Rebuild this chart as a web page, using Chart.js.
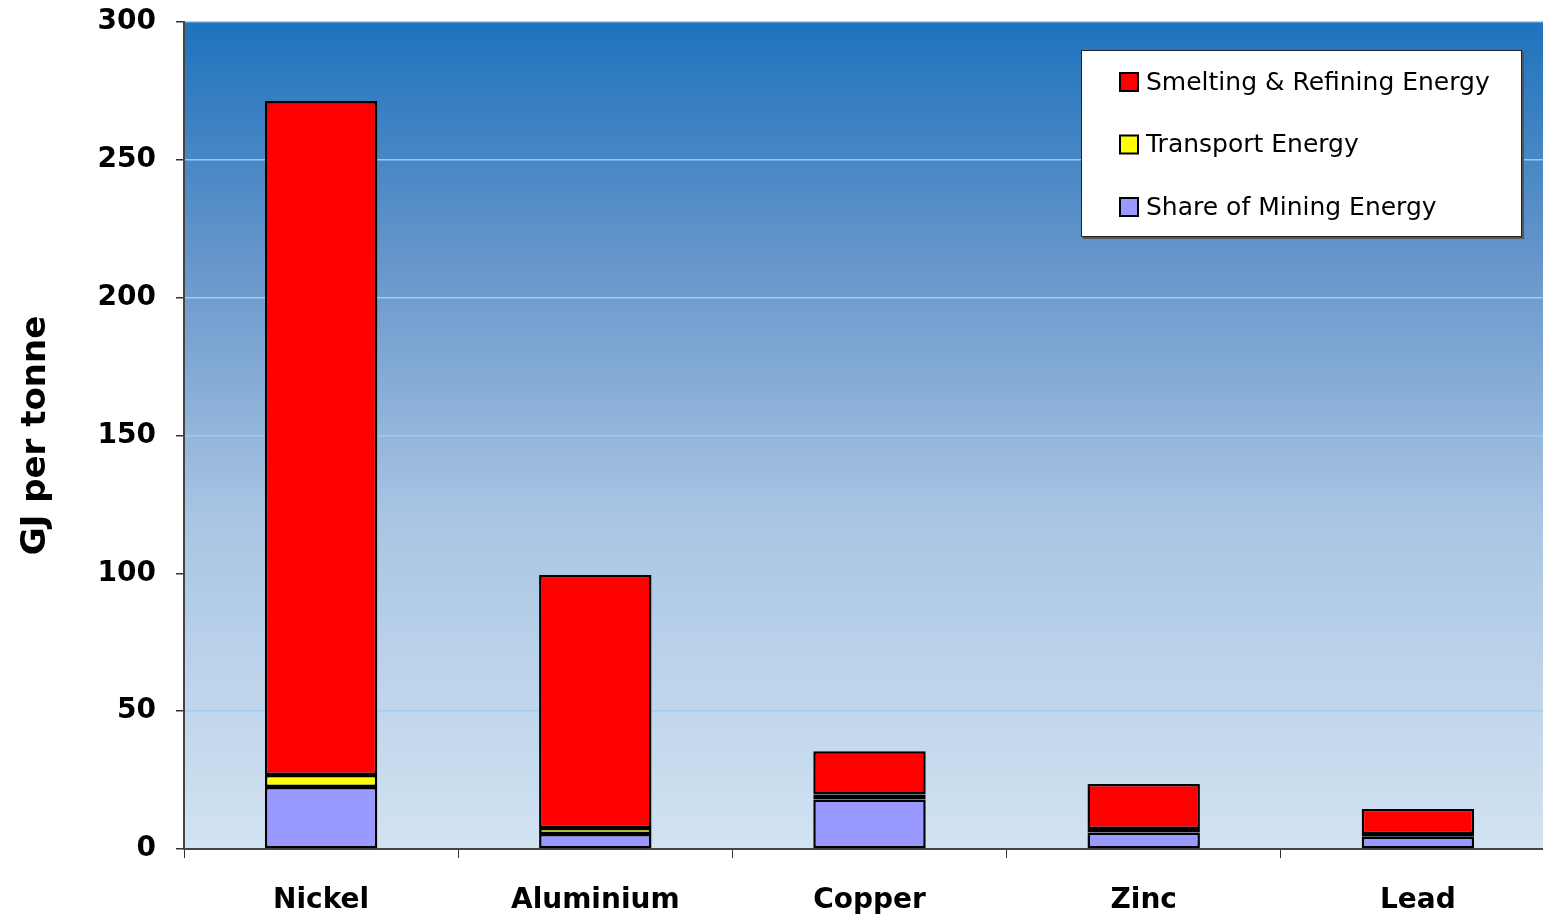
<!DOCTYPE html>
<html lang="en">
<head>
    <meta charset="UTF-8">
    <title>Energy per tonne of metal</title>
    <script src="https://cdn.jsdelivr.net/npm/chart.js@4.4.1/dist/chart.umd.min.js"></script>
    <style>
        html, body {
            margin: 0;
            padding: 0;
            background: #ffffff;
            overflow: hidden;
        }
        /* plot runs a little past the right edge of the window, as in the original */
        .chart-box {
            position: relative;
            width: 1555px;
            height: 918px;
        }
    </style>
</head>
<body>
    <div class="chart-box">
        <canvas id="energyChart"></canvas>
    </div>

    <script>
        // values (GJ per tonne)
        const metals = ['Nickel', 'Aluminium', 'Copper', 'Zinc', 'Lead'];
        const miningEnergy = [22.5, 5.4, 18.0, 6.0, 4.4];
        const transportEnergy = [4.3, 2.2, 1.8, 1.3, 1.0];
        const smeltingEnergy = [244.5, 91.8, 15.7, 16.3, 9.1];
        const yTicks = [0, 50, 100, 150, 200, 250, 300];

        // gradient fill behind the plot
        const plotBackground = {
            id: 'plotBackground',
            beforeDraw(chart) {
                const { ctx, chartArea: a } = chart;
                const g = ctx.createLinearGradient(0, a.top, 0, a.bottom);
                g.addColorStop(0, '#1e73bd');
                g.addColorStop(0.3, '#6997cb');
                g.addColorStop(0.6, '#a9c5e3');
                g.addColorStop(1, '#d2e3f2');
                ctx.save();
                ctx.fillStyle = g;
                ctx.fillRect(a.left, a.top, a.right - a.left, a.bottom - a.top);
                ctx.restore();
            }
        };

        // boxed legend sitting inside the plot, top right
        const boxLegend = {
            id: 'boxLegend',
            afterDraw(chart) {
                const ctx = chart.ctx;
                const items = chart.data.datasets.slice().reverse();
                const x = 1081, y = 50, w = 441, h = 187;
                ctx.save();
                ctx.fillStyle = '#555';
                ctx.fillRect(x + 2, y + 2, w, h);
                ctx.fillStyle = '#ffffff';
                ctx.fillRect(x, y, w, h);
                ctx.strokeStyle = '#222';
                ctx.lineWidth = 1;
                ctx.strokeRect(x + 0.5, y + 0.5, w - 1, h - 1);
                ctx.font = '25px "DejaVu Sans", sans-serif';
                ctx.textBaseline = 'middle';
                items.forEach((ds, i) => {
                    const cy = 82 + i * 62.5;
                    ctx.fillStyle = ds.backgroundColor;
                    ctx.fillRect(1120, cy - 9, 18, 18);
                    ctx.lineWidth = 2;
                    ctx.strokeStyle = '#000';
                    ctx.strokeRect(1120, cy - 9, 18, 18);
                    ctx.fillStyle = '#000';
                    ctx.fillText(ds.label, 1146, cy + 1);
                });
                ctx.restore();
            }
        };

        const ctx = document.getElementById('energyChart').getContext('2d');
        new Chart(ctx, {
            type: 'bar',
            data: {
                labels: metals,
                datasets: [
                    {
                        label: 'Share of Mining Energy',
                        data: miningEnergy,
                        backgroundColor: '#9999ff'
                    },
                    {
                        label: 'Transport Energy',
                        data: transportEnergy,
                        backgroundColor: '#ffff00'
                    },
                    {
                        label: 'Smelting & Refining Energy',
                        data: smeltingEnergy,
                        backgroundColor: '#ff0000'
                    }
                ]
            },
            options: {
                responsive: true,
                maintainAspectRatio: false,
                animation: false,
                datasets: {
                    bar: {
                        borderColor: '#000000',
                        borderWidth: 2.5,
                        borderSkipped: false,
                        categoryPercentage: 1,
                        barPercentage: 0.41
                    }
                },
                layout: {
                    padding: { top: 22, right: 0, bottom: 0, left: 0 }
                },
                plugins: {
                    legend: { display: false },
                    tooltip: { enabled: false }
                },
                scales: {
                    x: {
                        stacked: true,
                        afterFit(scale) {
                            scale.height = 69;
                            scale.paddingLeft = 0;
                            scale.paddingRight = 0;
                        },
                        grid: {
                            offset: true,
                            drawOnChartArea: false,
                            drawTicks: true,
                            tickLength: 9,
                            tickColor: '#333',
                            tickWidth: 1
                        },
                        border: { color: '#444', width: 2 },
                        ticks: {
                            color: '#000',
                            padding: 26,
                            font: { family: '"DejaVu Sans", sans-serif', size: 28, weight: 'bold' }
                        }
                    },
                    y: {
                        stacked: true,
                        min: 0,
                        max: 300,
                        afterFit(scale) {
                            scale.width = 184;
                            scale.paddingTop = 0;
                            scale.paddingBottom = 0;
                        },
                        afterBuildTicks(scale) {
                            scale.ticks = yTicks.map(v => ({ value: v }));
                        },
                        grid: {
                            color: 'rgba(160, 205, 240, 0.95)',
                            lineWidth: 1.5,
                            drawTicks: true,
                            tickLength: 8,
                            tickColor: '#333'
                        },
                        border: { color: '#444', width: 2 },
                        ticks: {
                            color: '#000',
                            padding: 20,
                            font: { family: '"DejaVu Sans", sans-serif', size: 28, weight: 'bold' }
                        },
                        title: {
                            display: true,
                            text: 'GJ per tonne',
                            color: '#000',
                            padding: { top: 16, bottom: 0 },
                            font: { family: '"DejaVu Sans", sans-serif', size: 34, weight: 'bold' }
                        }
                    }
                }
            },
            plugins: [plotBackground, boxLegend]
        });
    </script>
</body>
</html>
